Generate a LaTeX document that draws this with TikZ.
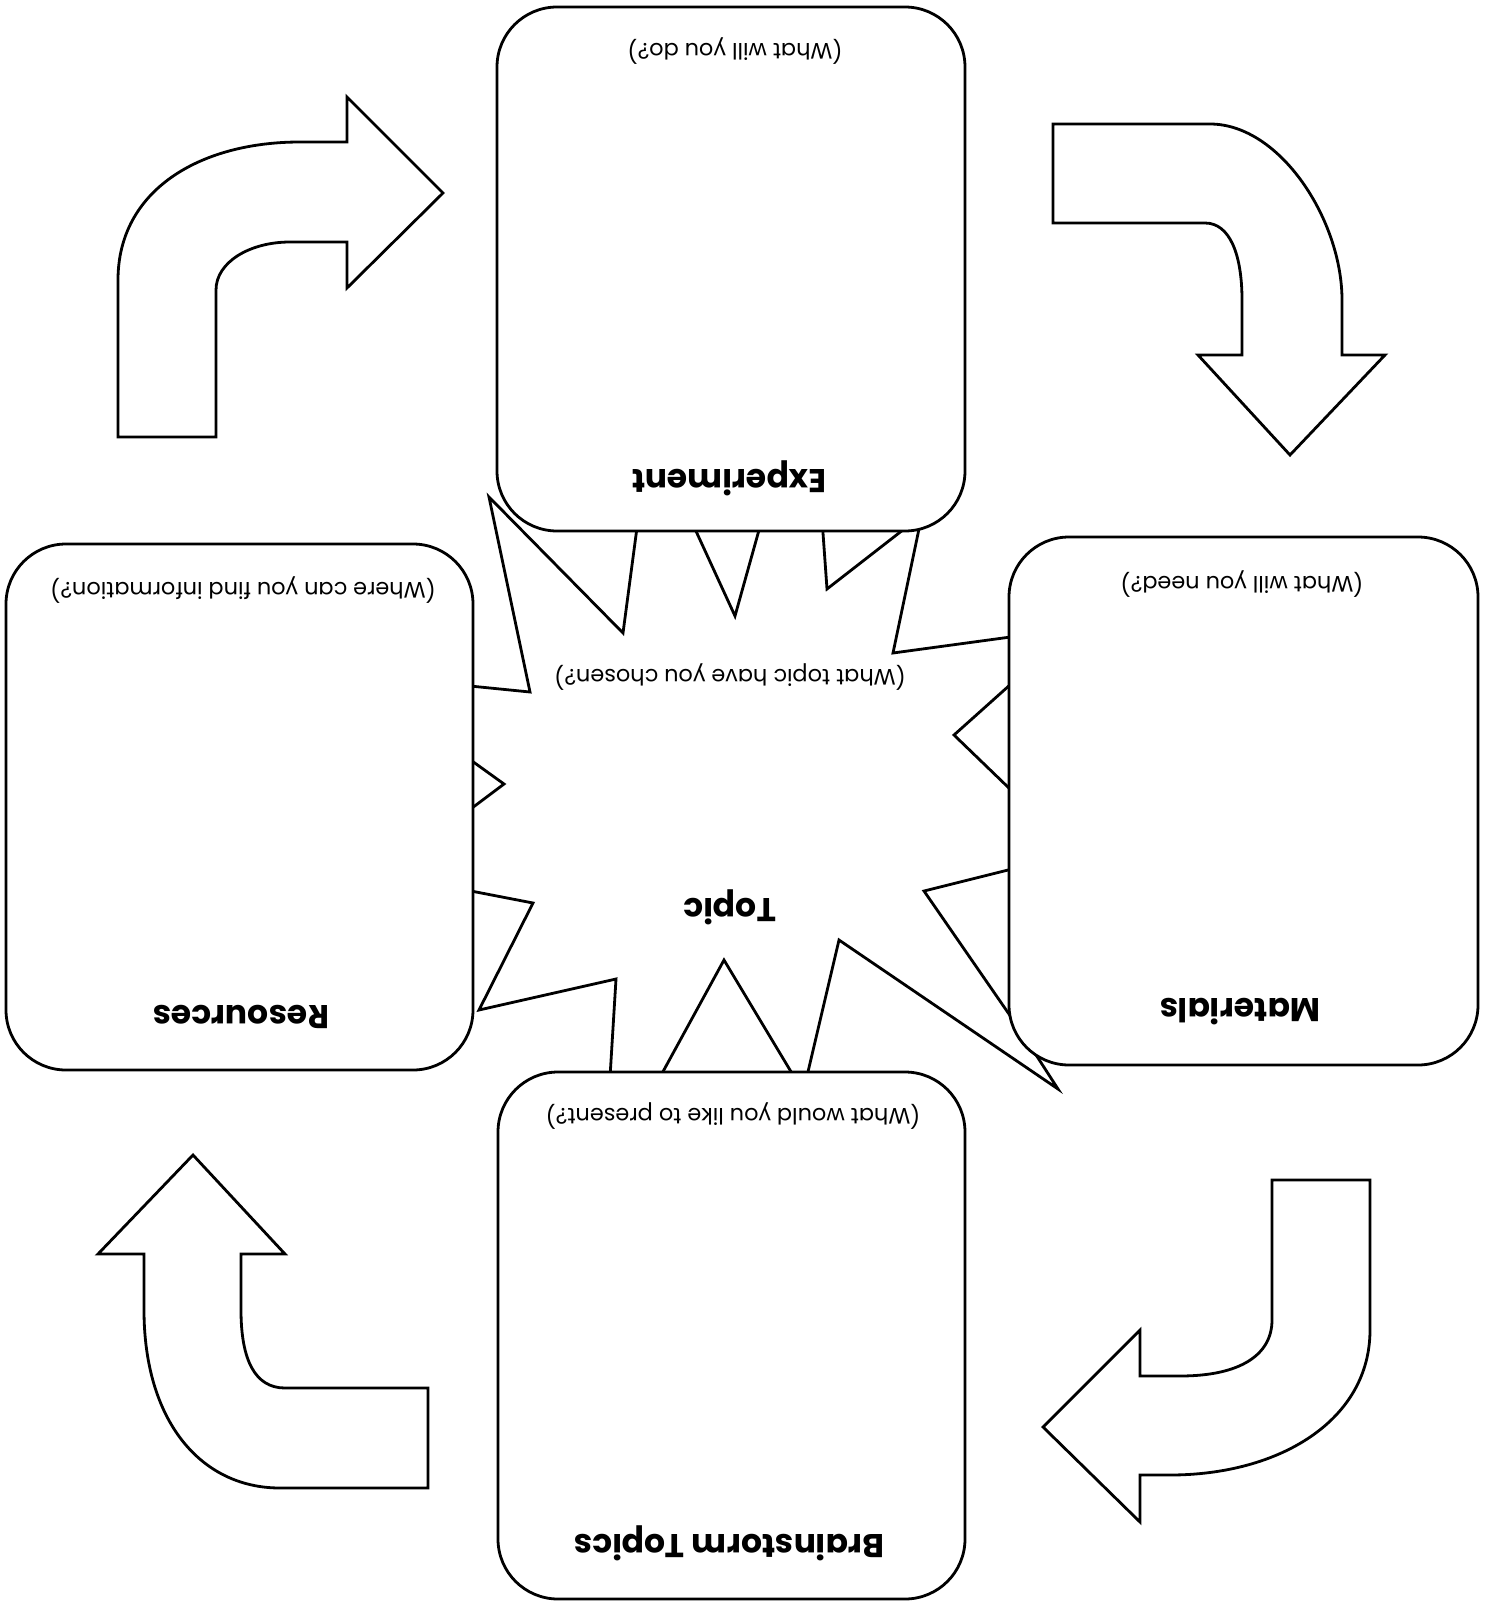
\documentclass[tikz,border=0pt]{standalone}
\usepackage{fontspec}
\setmainfont{Poppins}
\begin{document}
\begin{tikzpicture}[x=0.5pt,y=-0.5pt,line width=1.4pt,line join=miter]
\tikzset{
  box/.style={draw,fill=white,rounded corners=30pt,inner sep=0pt},
  outl/.style={draw,fill=white},
  qtext/.style={rotate=180,font=\fontsize{11.2}{13}\selectfont,inner sep=0pt},
  ttext/.style={rotate=180,font=\fontsize{16.5}{19}\selectfont\bfseries,inner sep=0pt}
}
\fill[white] (0,0) rectangle (1485,1606);
\useasboundingbox (0,0) rectangle (1485,1606);
% starburst
\draw[outl] (489,497) -- (623,633) -- (640,505) -- (684,505) -- (735,616) -- (766,505)
  -- (821,505) -- (827,589) -- (935,505) -- (924,505) -- (893,653) -- (1040,633)
  -- (1040,658) -- (954,735) -- (1040,818) -- (1040,862) -- (924,891) -- (1020,1030)
  -- (1058,1089) -- (839,940) -- (799,1110) -- (814,1110) -- (724,960) -- (642,1110)
  -- (608,1110) -- (616,979) -- (479,1010) -- (533,903) -- (440,885) -- (440,832)
  -- (504,784) -- (440,738) -- (440,683) -- (530,692) -- cycle;
% boxes
\node[box,minimum width=234pt,minimum height=262pt] (exp) at (731,269) {};
\node[box,minimum width=233.5pt,minimum height=263pt] (res) at (239.5,807) {};
\node[box,minimum width=234.5pt,minimum height=264pt] (mat) at (1243.5,801) {};
\node[box,minimum width=233.5pt,minimum height=263.5pt] (bra) at (731.5,1335.5) {};
% arrows
\draw[outl] (118,437) -- (118,280) .. controls (118,190) and (200,142) .. (300,142)
  -- (347,142) -- (347,97) -- (443,193) -- (347,288) -- (347,242) -- (290,242)
  .. controls (250,242) and (216,262) .. (216,290) -- (216,437) -- cycle;
\draw[outl] (1053,124) -- (1210,124) .. controls (1280,124) and (1342,220) .. (1342,300)
  -- (1342,355) -- (1385,355) -- (1290,455) -- (1198,355) -- (1242,355) -- (1242,300)
  .. controls (1242,255) and (1230,223) .. (1205,223) -- (1053,223) -- cycle;
\draw[outl] (193,1155) -- (285,1254) -- (241,1254) -- (241,1310)
  .. controls (241,1360) and (255,1388) .. (285,1388) -- (428,1388) -- (428,1488)
  -- (280,1488) .. controls (200,1488) and (144,1420) .. (144,1310) -- (144,1254)
  -- (98,1254) -- cycle;
\draw[outl] (1272,1180) -- (1370,1180) -- (1370,1330)
  .. controls (1370,1420) and (1280,1475) .. (1170,1475) -- (1140,1475) -- (1140,1522)
  -- (1043,1427) -- (1140,1330) -- (1140,1376) -- (1180,1376)
  .. controls (1240,1376) and (1272,1355) .. (1272,1320) -- cycle;
% texts
\node[qtext] (expq) at (735,51) {(What will you do?)};
\node[ttext] (expt) at (729,478) {Experiment};
\node[qtext] (resq) at (243,590) {(Where can you find information?)};
\node[ttext] (rest) at (241,1017) {Resources};
\node[qtext] (matq) at (1242,584) {(What will you need?)};
\node[ttext] (matt) at (1240,1012) {Materials};
\node[qtext] (braq) at (733,1116) {(What would you like to present?)};
\node[ttext] (brat) at (729,1543) {Brainstorm Topics};
\node[qtext] (topq) at (730,677) {(What topic have you chosen?)};
\node[ttext] (topt) at (730,907) {Topic};
\end{tikzpicture}
\end{document}
